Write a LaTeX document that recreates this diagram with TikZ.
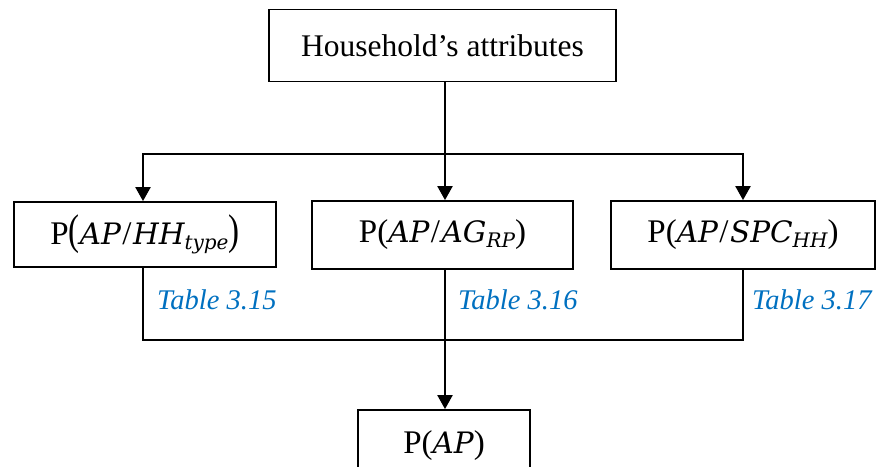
\documentclass[tikz,border=0pt]{standalone}
\usepackage{fontspec}
\setmainfont{Liberation Serif}
\newfontfamily\mfont{DejaVu Serif}
\usetikzlibrary{arrows.meta}
\definecolor{tblue}{HTML}{0070C0}
\newcommand{\mi}[1]{{\fontsize{29.5}{36}\selectfont\mfont\itshape #1}}
\newcommand{\msub}[1]{\raisebox{-5pt}{\fontsize{20}{22}\selectfont\mfont\itshape #1}}
\newcommand{\myslash}{\hspace{1.5pt}/\hspace{1.5pt}}
\begin{document}
\begin{tikzpicture}[x=1pt,y=-1pt,
  box/.style={draw,line width=1.8pt,inner sep=0pt,font=\fontsize{31.5}{36}\selectfont},
  fbox/.style={box,font=\fontsize{33}{36}\selectfont},
  conn/.style={line width=2.2pt},
  arr/.style={conn,-{Triangle[width=15pt,length=14pt]}},
  tbl/.style={anchor=west,text=tblue,inner sep=0pt,font=\fontsize{28.5}{32}\selectfont\itshape}]
\useasboundingbox (0,0) rectangle (877,466);
\clip (0,0) rectangle (877,466);
\node[box,minimum width=347pt,minimum height=72pt] (top) at (442.5,45.5) {Household’s attributes};
\node[fbox,minimum width=262pt,minimum height=65pt] (lb) at (145,234.5) {P\scalebox{1}[1.3]{(}\mi{AP}\myslash\mi{HH}\msub{type}\scalebox{1}[1.3]{)}};
\node[fbox,minimum width=261pt,minimum height=68pt] (mb) at (442.5,235) {P(\mi{AP}\myslash\mi{AG}\msub{RP})};
\node[fbox,minimum width=264pt,minimum height=68pt] (rb) at (743,235) {P(\mi{AP}\myslash\mi{SPC}\msub{HH})};
\node[fbox,minimum width=172pt,minimum height=72pt] (bb) at (444,446) {P(\mi{AP})};
\coordinate (j1) at (445,154);
\coordinate (j2) at (445,340);
\draw[conn] (top.south -| j1) -- (j1);
\draw[arr] (j1) -| ([xshift=-2pt]lb.north);
\draw[arr] (j1) -| (rb.north);
\draw[arr] (j1) -- (mb.north -| j1);
\draw[conn] ([xshift=-2pt]lb.south) |- (j2) -| (rb.south);
\draw[arr] (mb.south -| j2) -- (bb.north -| j2);
\node[tbl] (t1) at (157,300) {Table 3.15};
\node[tbl] (t2) at (458,300) {Table 3.16};
\node[tbl] (t3) at (752,300) {Table 3.17};
\end{tikzpicture}
\end{document}
